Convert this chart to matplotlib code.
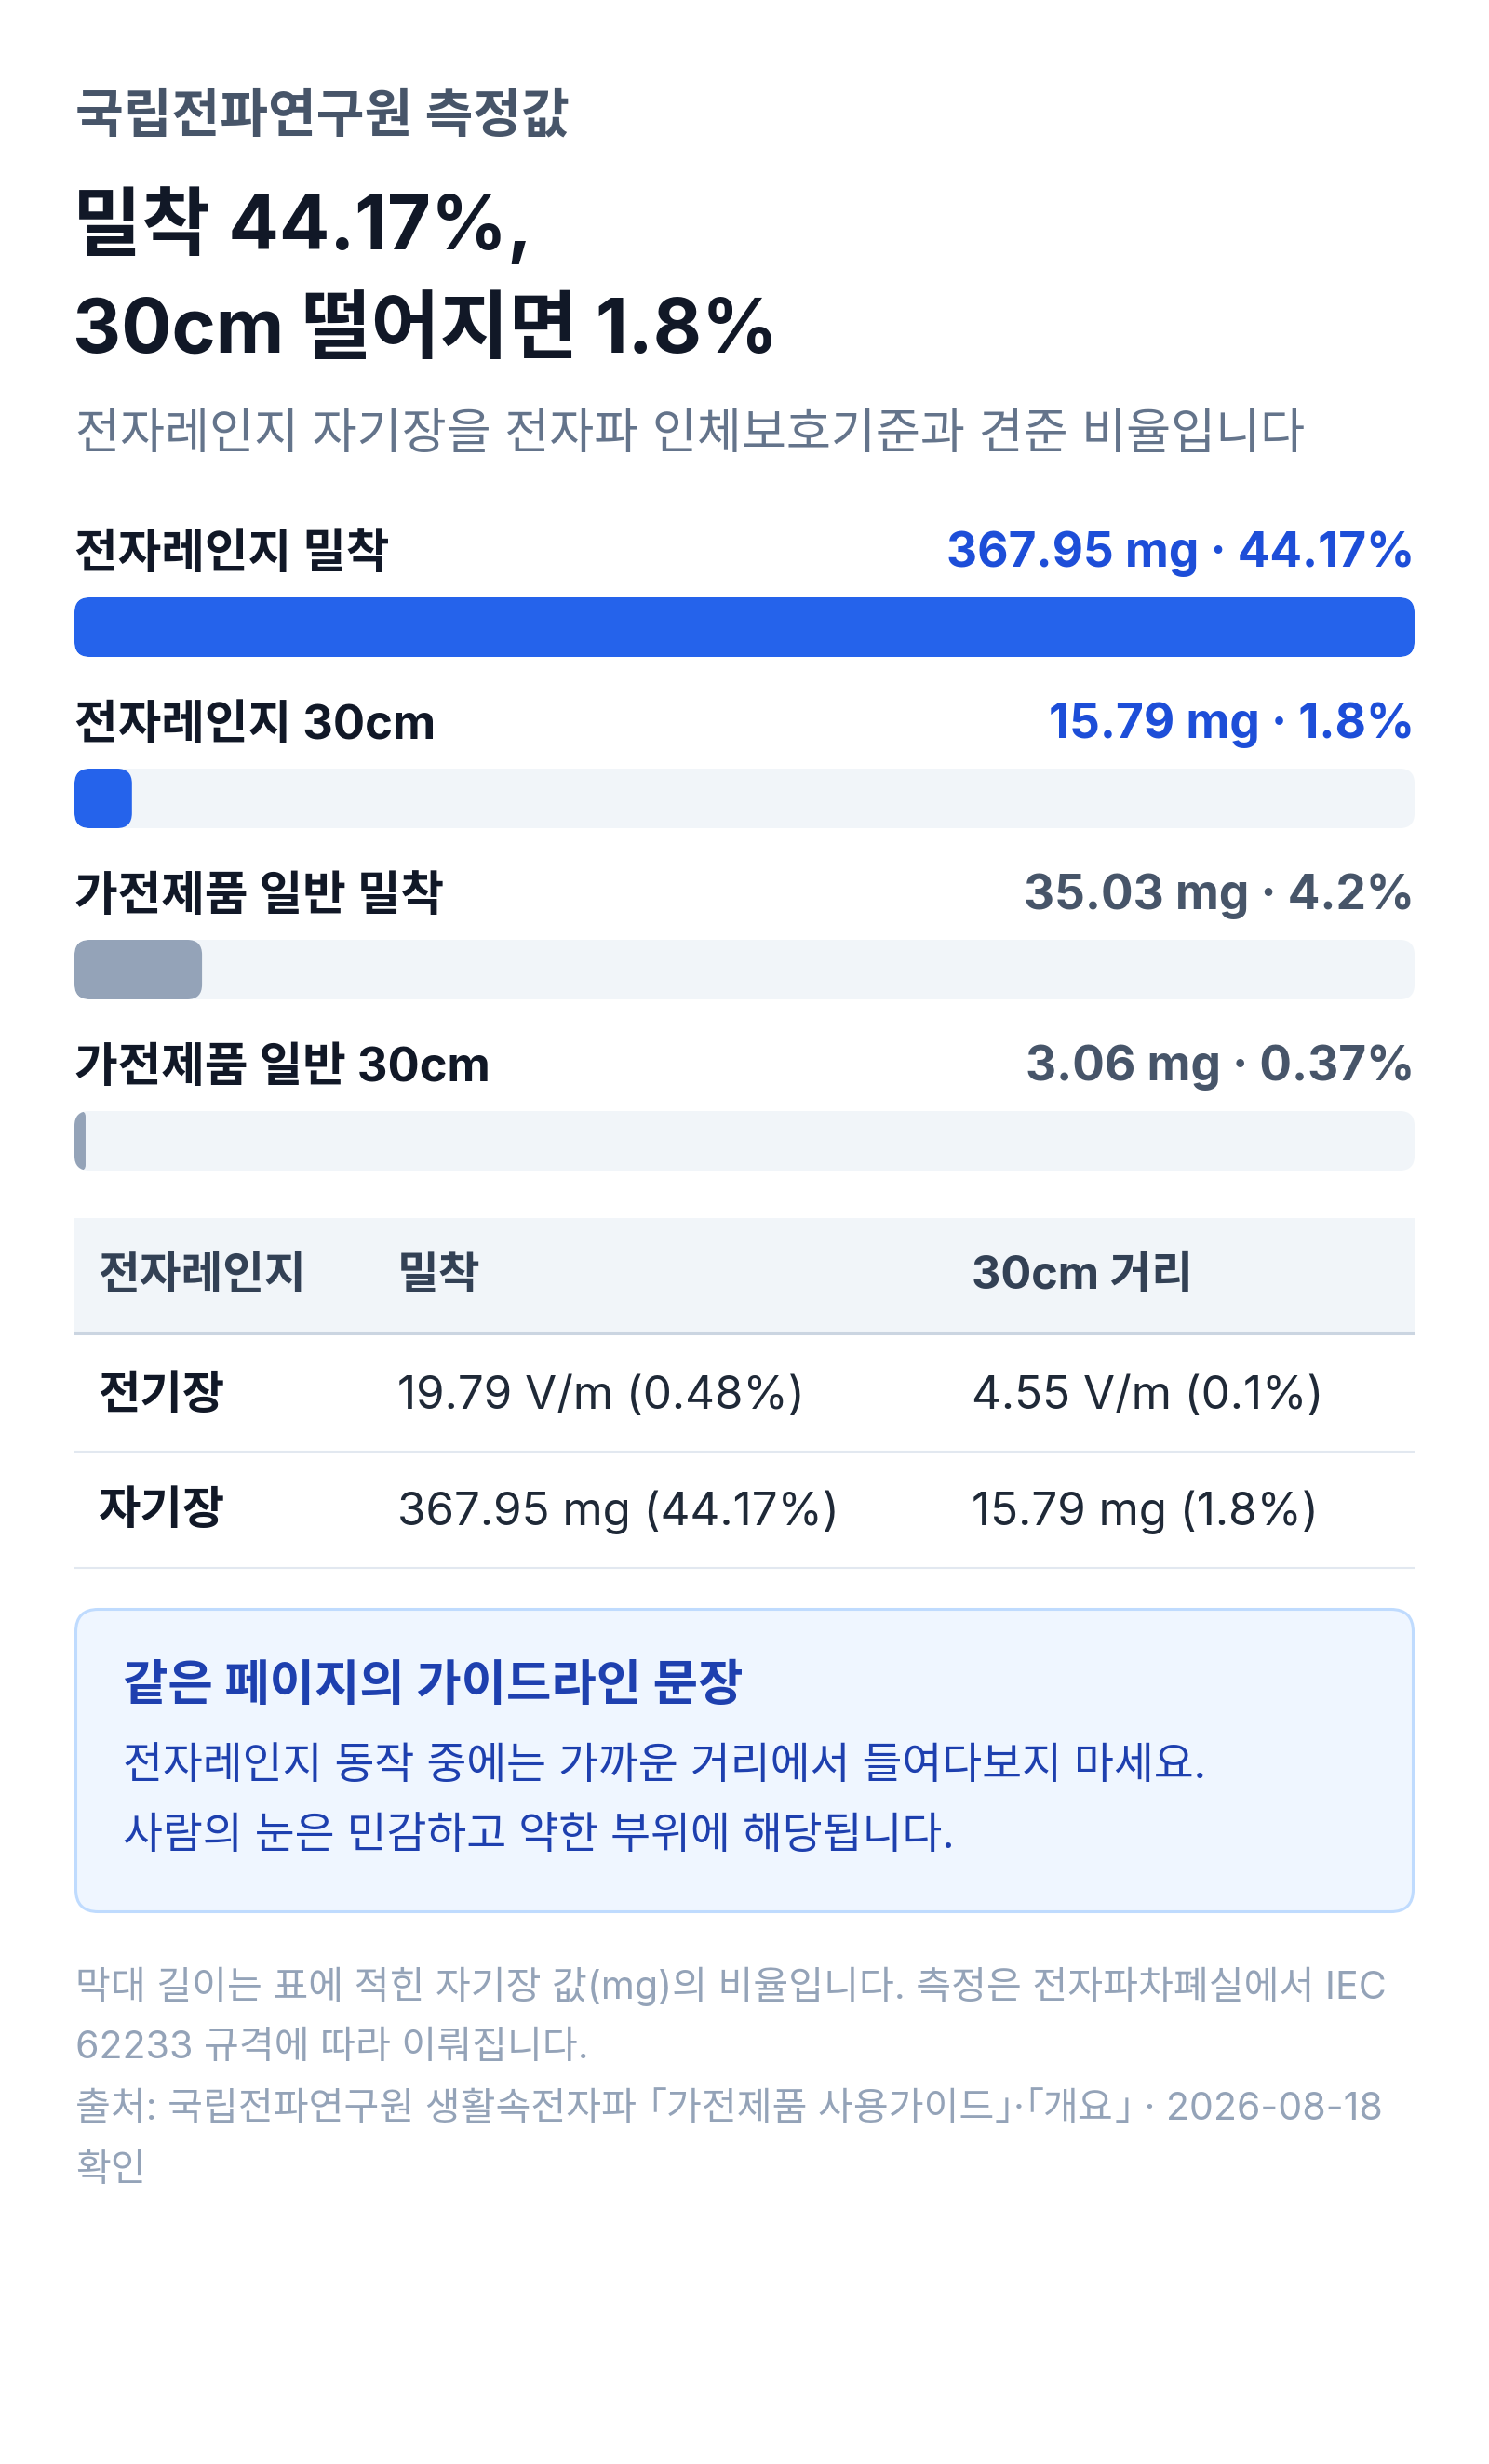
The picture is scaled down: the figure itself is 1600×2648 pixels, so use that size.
import re
import matplotlib.pyplot as plt
from matplotlib.patches import FancyBboxPatch, Rectangle

plt.rcParams['font.family'] = ['Inter', 'Noto Sans CJK KR', 'DejaVu Sans']

# ---- data ----
bar_labels = ['전자레인지 밀착', '전자레인지 30cm', '가전제품 일반 밀착', '가전제품 일반 30cm']
bar_mg = [367.95, 15.79, 35.03, 3.06]
bar_pct = ['44.17%', '1.8%', '4.2%', '0.37%']
bar_group = ['mw', 'mw', 'home', 'home']

table_cols = ['전자레인지', '밀착', '30cm 거리']
table_rows = [
    ['전기장', '19.79 V/m (0.48%)', '4.55 V/m (0.1%)'],
    ['자기장', '367.95 mg (44.17%)', '15.79 mg (1.8%)'],
]

kicker = '국립전파연구원 측정값'
title_lines = ['밀착 44.17%,', '30cm 떨어지면 1.8%']
subtitle = '전자레인지 자기장을 전자파 인체보호기준과 견준 비율입니다'
note_title = '같은 페이지의 가이드라인 문장'
note_lines = ['전자레인지 동작 중에는 가까운 거리에서 들여다보지 마세요.',
              '사람의 눈은 민감하고 약한 부위에 해당됩니다.']
footer_lines = ['막대 길이는 표에 적힌 자기장 값(mg)의 비율입니다. 측정은 전자파차폐실에서 IEC',
                '62233 규격에 따라 이뤄집니다.',
                '출처: 국립전파연구원 생활속전자파 「가전제품 사용가이드」·「개요」 · 2026-08-18',
                '확인']

# ---- colours ----
ink = '#111827'
bar_color = {'mw': '#2563eb', 'home': '#94a3b8'}
val_color = {'mw': '#1d4ed8', 'home': '#475569'}
track = '#f1f5f9'

W, H = 1600, 2648
fig = plt.figure(figsize=(W / 100, H / 100), dpi=100)
fig.patch.set_facecolor('white')
renderer = fig.canvas.get_renderer()

# page axes in pixel units (y downwards)
page = fig.add_axes([0, 0, 1, 1])
page.set_xlim(0, W)
page.set_ylim(H, 0)
page.axis('off')

L, R = 80, 1520

page.text(81, 126, kicker, fontsize=40.5, fontweight='bold', color='#475569', va='center')
page.text(78, 243, title_lines[0], fontsize=58, fontweight='bold', color=ink, va='center')
page.text(78, 358, title_lines[1], fontsize=58, fontweight='bold', color=ink, va='center')
page.text(81, 468, subtitle, fontsize=37.6, color='#64748b', va='center')

# ---- bars ----
row_px = 184
top_px, bot_px = 560, 1270
first_center = 674
ax = fig.add_axes([L / W, 1 - bot_px / H, (R - L) / W, (bot_px - top_px) / H])
ax.axis('off')
vmax = max(bar_mg)
ax.set_xlim(0, vmax)
y_top = -(first_center - top_px) / row_px
ax.set_ylim(y_top + (bot_px - top_px) / row_px, y_top)

p0 = ax.transData.transform((0, 0))
p1 = ax.transData.transform((1, 1))
sx, sy = abs(p1[0] - p0[0]), abs(p1[1] - p0[1])
bh = 64 / sy


def rbar(x0, yc, w, r_px, color, z, clip=None):
    r = min(r_px, w * sx / 2, bh * sy / 2)
    p = FancyBboxPatch((x0, yc - bh / 2), w, bh,
                       boxstyle=f'round,pad=0,rounding_size={r / sx}',
                       mutation_aspect=sx / sy, facecolor=color,
                       edgecolor='none', zorder=z)
    ax.add_patch(p)
    if clip is not None:
        p.set_clip_path(clip)
    return p


for i, (lab, mg, pct, g) in enumerate(zip(bar_labels, bar_mg, bar_pct, bar_group)):
    tr = rbar(0, i, vmax, 16, track, 1)
    rbar(0, i, mg, 16, bar_color[g], 2, clip=tr)
    ax.text(0, i - 78 / sy, lab, fontsize=36.5, fontweight='bold', color=ink,
            va='center', ha='left')
    ax.text(vmax, i - 79 / sy, f'{mg:.2f} mg · {pct}', fontsize=37,
            fontweight='bold', color=val_color[g], va='center', ha='right')

# ---- table ----
col_x = [105, 427, 1044]
page.add_patch(Rectangle((L, 1309), R - L, 124, facecolor='#f1f5f9', edgecolor='none'))
page.plot([L, R], [1433, 1433], color='#cbd5e1', lw=2.9, solid_capstyle='butt')
for x, c in zip(col_x, table_cols):
    page.text(x, 1372, c, fontsize=35, fontweight='bold', color='#334155', va='center')
row_y = [1501, 1625]
line_y = [1559.5, 1685]
for ry, ly, row in zip(row_y, line_y, table_rows):
    page.text(col_x[0], ry, row[0], fontsize=35.5, fontweight='bold', color=ink, va='center')
    for x, v in zip(col_x[1:], row[1:]):
        page.text(x, ry, v, fontsize=35.5, color='#1f2937', va='center')
    page.plot([L, R], [ly, ly], color='#e2e8f0', lw=1.5, solid_capstyle='butt')

# ---- note box ----
page.add_patch(FancyBboxPatch((81.5, 1729.5), 1437, 325,
                              boxstyle='round,pad=0,rounding_size=24',
                              facecolor='#eff6ff', edgecolor='#bfdbfe', lw=2.2))
page.text(132, 1813, note_title, fontsize=37.9, fontweight='bold', color='#1e40af', va='center')
for k, t in enumerate(note_lines):
    page.text(132, 1899 + 75 * k, t, fontsize=33.6, color='#1e40af', va='center')


# ---- footer ----
def tight_text(x, y, s, size, color):
    # CJK corner brackets are full-width; pull them in like proportional forms
    em = size * 100 / 72
    cur = x
    for part in re.split('([「」])', s):
        if not part:
            continue
        if part == '「':
            cur -= 0.5 * em
        t = page.text(cur, y, part, fontsize=size, color=color, va='center')
        cur += t.get_window_extent(renderer).width
        if part == '」':
            cur -= 0.5 * em


for k, t in enumerate(footer_lines):
    tight_text(81, 2135 + 66 * k, t, 29.6, '#94a3b8')

fig.savefig('out.png', dpi=100, facecolor='white')
